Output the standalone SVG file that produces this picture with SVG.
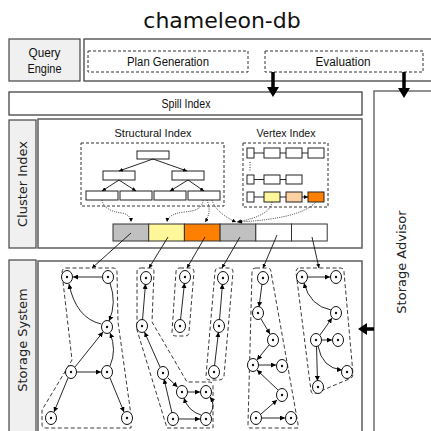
<svg xmlns="http://www.w3.org/2000/svg" width="431" height="431" viewBox="0 0 431 431">
<defs>
<marker id="ah" viewBox="0 0 10 10" refX="10" refY="5" markerWidth="5" markerHeight="5" markerUnits="userSpaceOnUse" orient="auto"><path d="M0,0 L10,5 L0,10 z" fill="#000"/></marker>
<marker id="ahs" viewBox="0 0 10 10" refX="10" refY="5" markerWidth="4" markerHeight="4" markerUnits="userSpaceOnUse" orient="auto"><path d="M0,0 L10,5 L0,10 z" fill="#000"/></marker>
</defs>
<style>
.lbl{font-family:"Liberation Sans",Arial,sans-serif;font-size:12px;fill:#111;text-anchor:middle}
.sm{font-size:11px}
.vl{font-family:"DejaVu Sans",sans-serif;font-size:13px;fill:#222;text-anchor:middle}
.box{fill:#fff;stroke:#333;stroke-width:1.2}
.gbox{fill:#f0f0f0;stroke:#444;stroke-width:1.2}
.mbox{fill:#fff;stroke:#666;stroke-width:1.6}
.dash{fill:none;stroke:#333;stroke-width:1;stroke-dasharray:3,2}
.hull{fill:none;stroke:#222;stroke-width:0.9;stroke-dasharray:4,2.5}
.tn{fill:#fff;stroke:#222;stroke-width:1}
.e{fill:none;stroke:#111;stroke-width:0.9;marker-end:url(#ah)}
.dot{fill:none;stroke:#333;stroke-width:1;stroke-dasharray:1,1.2;marker-end:url(#ahs)}
.cl{fill:none;stroke:#111;stroke-width:0.9;marker-end:url(#ahs)}
.nd ellipse{fill:#fff;stroke:#111;stroke-width:1}
.nd circle{fill:#111}
</style>
<rect width="431" height="431" fill="#fff"/>
<text x="222" y="28" font-family="DejaVu Sans,sans-serif" font-size="22" text-anchor="middle" fill="#111">chameleon-db</text>

<g id="query-engine">
<rect class="gbox" x="9" y="39" width="71" height="42"/>
<text class="lbl" x="44.5" y="57" textLength="32" lengthAdjust="spacingAndGlyphs">Query</text>
<text class="lbl" x="44.5" y="73" textLength="34" lengthAdjust="spacingAndGlyphs">Engine</text>
</g>
<g id="query-body">
<rect class="box" x="84" y="39" width="360" height="42"/>
</g>
<g id="plan-generation">
<rect class="dash" x="88" y="51" width="160" height="21"/>
<text class="lbl" x="168" y="66" textLength="82" lengthAdjust="spacingAndGlyphs">Plan Generation</text>
</g>
<g id="evaluation">
<rect class="dash" x="265" y="51" width="158" height="21"/>
<text class="lbl" x="343" y="66" textLength="55" lengthAdjust="spacingAndGlyphs">Evaluation</text>
</g>
<g id="spill-index">
<rect class="box" x="9" y="92" width="353" height="23"/>
<text class="lbl" x="186" y="108" textLength="49" lengthAdjust="spacingAndGlyphs">Spill Index</text>
</g>
<g id="storage-advisor">
<rect x="374" y="91" width="80" height="360" fill="#fff" stroke="#777" stroke-width="1.6"/>
<text class="vl" transform="translate(406,262) rotate(-90)">Storage Advisor</text>
</g>

<g id="cluster-index">
<rect class="gbox" x="9" y="120" width="27" height="128"/>
<text class="vl" transform="translate(27,184) rotate(-90)">Cluster Index</text>
<rect class="mbox" x="38" y="119" width="324" height="129"/>
</g>

<g id="structural-index">
<text class="lbl sm" x="153" y="137" textLength="77" lengthAdjust="spacingAndGlyphs">Structural Index</text>
<rect class="dash" x="81" y="143" width="143" height="63"/>
<rect class="tn" x="137" y="151" width="32" height="8"/>
<rect class="tn" x="103" y="171" width="32" height="9"/>
<rect class="tn" x="172" y="171" width="32" height="9"/>
<rect class="tn" x="86" y="191" width="32" height="9"/>
<rect class="tn" x="120" y="191" width="32" height="9"/>
<rect class="tn" x="154" y="191" width="32" height="9"/>
<rect class="tn" x="188" y="191" width="32" height="9"/>
<path class="cl" d="M153,159 L119,171"/>
<path class="cl" d="M153,159 L187,171"/>
<path class="cl" d="M119,180 L102,191"/>
<path class="cl" d="M119,180 L136,191"/>
<path class="cl" d="M188,180 L170,191"/>
<path class="cl" d="M188,180 L204,191"/>
</g>

<g id="vertex-index">
<text class="lbl sm" x="286" y="137" textLength="59" lengthAdjust="spacingAndGlyphs">Vertex Index</text>
<rect class="dash" x="243" y="143" width="85" height="64"/>
<rect class="tn" x="247" y="148" width="7" height="10"/>
<rect class="tn" x="264" y="148" width="16" height="10"/>
<rect class="tn" x="286" y="148" width="16" height="10"/>
<rect class="tn" x="308" y="148" width="16" height="10"/>
<rect class="tn" x="247" y="175" width="7" height="9"/>
<rect class="tn" x="264" y="175" width="16" height="9"/>
<rect class="tn" x="286" y="175" width="16" height="9"/>
<rect class="tn" x="247" y="192" width="7" height="10"/>
<rect class="tn" x="264" y="192" width="16" height="10" fill="#fff79a" style="fill:#fff79a"/>
<rect class="tn" x="286" y="192" width="16" height="10" style="fill:#fdd0a2"/>
<rect class="tn" x="308" y="192" width="16" height="10" style="fill:#ff8000"/>
<path class="cl" d="M254,153 L264,153 M280,153 L286,153 M302,153 L308,153 M254,179.5 L264,179.5 M280,179.5 L286,179.5 M254,197 L264,197 M280,197 L286,197 M302,197 L308,197"/>
<path d="M250,162 L250,172" stroke="#333" stroke-width="1" stroke-dasharray="1,1.5"/>
</g>

<g id="cluster-array">
<rect x="113" y="224" width="35.7" height="17" fill="#c0c0c0" stroke="#333"/>
<rect x="148.7" y="224" width="35.7" height="17" fill="#fff79a" stroke="#333"/>
<rect x="184.4" y="224" width="35.7" height="17" fill="#ff8000" stroke="#333"/>
<rect x="220.1" y="224" width="35.7" height="17" fill="#c0c0c0" stroke="#333"/>
<rect x="255.8" y="224" width="35.7" height="17" fill="#fff" stroke="#333"/>
<rect x="291.5" y="224" width="35.7" height="17" fill="#fff" stroke="#333"/>
</g>

<g id="storage-system">
<rect class="gbox" x="9" y="260" width="27" height="190"/>
<text class="vl" transform="translate(27,340) rotate(-90)">Storage System</text>
<rect class="mbox" x="38" y="261" width="324" height="190"/>
</g>

<g id="connectors">
<path d="M273,72 L273,88" stroke="#000" stroke-width="3.5"/>
<path d="M267,87 L279,87 L273,97 z" fill="#000"/>
<path d="M404,72 L404,89" stroke="#000" stroke-width="3.5"/>
<path d="M398,88 L410,88 L404,98 z" fill="#000"/>
<path d="M374,329 L366,329" stroke="#000" stroke-width="3.5"/>
<path d="M367,323 L367,335 L358,329 z" fill="#000"/>

<path class="dot" d="M102,200 Q104,211 122,213 Q131,215 131,222"/>
<path class="dot" d="M203,200 Q203,211 184,212 Q168,214 167,222"/>
<path class="dot" d="M207,200 Q212,212 205,222"/>
<path class="dot" d="M212,200 Q216,213 236,222"/>
<path class="dot" d="M272,202 Q270,216 237,222"/>
<path class="dot" d="M316,202 Q300,219 238,222"/>

<path class="cl" d="M131,233 L92,268"/>
<path class="cl" d="M168,237 L149,268"/>
<path class="cl" d="M205,237 L187,268"/>
<path class="cl" d="M240,237 L222,268"/>
<path class="cl" d="M277,235 L263,268"/>
<path class="cl" d="M312,237 L319,268"/>

<path class="e" d="M102,277 L73,277"/>
<path class="e" d="M101,324 Q76,318 69,284"/>
<path class="e" d="M110,283 Q117,303 109,321"/>
<path class="e" d="M110,366 Q117,350 110,333"/>
<path class="e" d="M75,367 L103,332"/>
<path class="e" d="M77,372 L101,372"/>
<path class="e" d="M68,378 L54,412"/>
<path class="e" d="M110,378 L124,412"/>

<path class="e" d="M142.5,320 L145.5,284"/>
<path class="e" d="M160,367 L144.5,332"/>
<path class="e" d="M168,378 L177.5,387"/>
<path class="e" d="M188,392 L200,392"/>
<path class="e" d="M172,413 L164,379"/>
<path class="e" d="M179,419 L200,419"/>
<path class="e" d="M210,414 Q216,405 210,397"/>
<path class="e" d="M201,415 Q188,411 184,398"/>

<path class="e" d="M180.5,320 L184.5,283"/>
<path class="e" d="M219.5,320 L222.5,284"/>
<path class="e" d="M214.5,366 L218.5,332"/>

<path class="e" d="M262,284 L259,307"/>
<path class="e" d="M261,319 L270,334"/>
<path class="e" d="M269,345 L257,360"/>
<path class="e" d="M259,365 L276,365"/>
<path class="e" d="M278,390 L257,370"/>
<path class="e" d="M261,414 L277,400"/>
<path class="e" d="M262,418 L285,418"/>

<path class="e" d="M308,277 L330,277"/>
<path class="e" d="M331,310 Q310,306 304,283"/>
<path class="e" d="M320,335 L332,318"/>
<path class="e" d="M322,340 L332,340"/>
<path class="e" d="M318,346 Q322,368 342,370"/>
<path class="e" d="M316.5,346 L317.5,381"/>
</g>

<g id="cluster-1">
<path class="hull" d="M66,268 L113,268 Q117,268 117,272 L118,322 L131,415 L131,428 L46,428 Q42,428 42,424 L42,410 L72,360 L62,273 Q62,268 66,268 Z"/>
<g class="nd">
<ellipse cx="67" cy="277" rx="5.5" ry="6.5"/><circle cx="67" cy="277" r="1.2"/>
<ellipse cx="108" cy="277" rx="5.5" ry="6.5"/><circle cx="108" cy="277" r="1.2"/>
<ellipse cx="107" cy="327" rx="5.5" ry="6.5"/><circle cx="107" cy="327" r="1.2"/>
<ellipse cx="71" cy="372" rx="5.5" ry="6.5"/><circle cx="71" cy="372" r="1.2"/>
<ellipse cx="107" cy="372" rx="5.5" ry="6.5"/><circle cx="107" cy="372" r="1.2"/>
<ellipse cx="51" cy="418" rx="5.5" ry="6.5"/><circle cx="51" cy="418" r="1.2"/>
<ellipse cx="127" cy="418" rx="5.5" ry="6.5"/><circle cx="127" cy="418" r="1.2"/>
</g>
</g>

<g id="cluster-2">
<path class="hull" d="M141,268 L150,268 Q154,268 154,272 L152,322 L187,382 L209,382 Q213,382 213,386 L213,428 L167,428 L137,330 L137,272 Q137,268 141,268 Z"/>
<g class="nd">
<ellipse cx="146" cy="278" rx="5.5" ry="6.5"/><circle cx="146" cy="278" r="1.2"/>
<ellipse cx="142" cy="326" rx="5.5" ry="6.5"/><circle cx="142" cy="326" r="1.2"/>
<ellipse cx="163" cy="373" rx="5.5" ry="6.5"/><circle cx="163" cy="373" r="1.2"/>
<ellipse cx="182" cy="392" rx="5.5" ry="6.5"/><circle cx="182" cy="392" r="1.2"/>
<ellipse cx="206" cy="392" rx="5.5" ry="6.5"/><circle cx="206" cy="392" r="1.2"/>
<ellipse cx="173" cy="419" rx="5.5" ry="6.5"/><circle cx="173" cy="419" r="1.2"/>
<ellipse cx="206" cy="419" rx="5.5" ry="6.5"/><circle cx="206" cy="419" r="1.2"/>
</g>
</g>

<g id="cluster-3">
<path class="hull" d="M180,268 L190,268 Q194,268 194,272 L189,332 Q189,336 185,336 L176,336 Q172,336 172,332 L176,272 Q176,268 180,268 Z"/>
<g class="nd">
<ellipse cx="185" cy="277" rx="5.5" ry="6.5"/><circle cx="185" cy="277" r="1.2"/>
<ellipse cx="180" cy="326" rx="5.5" ry="6.5"/><circle cx="180" cy="326" r="1.2"/>
</g>
</g>

<g id="cluster-4">
<path class="hull" d="M219,268 L229,268 Q233,268 233,272 L224,376 Q223,380 219,380 L210,380 Q206,380 206,376 L215,272 Q215,268 219,268 Z"/>
<g class="nd">
<ellipse cx="223" cy="278" rx="5.5" ry="6.5"/><circle cx="223" cy="278" r="1.2"/>
<ellipse cx="219" cy="326" rx="5.5" ry="6.5"/><circle cx="219" cy="326" r="1.2"/>
<ellipse cx="214" cy="372" rx="5.5" ry="6.5"/><circle cx="214" cy="372" r="1.2"/>
</g>
</g>

<g id="cluster-5">
<path class="hull" d="M256,268 L267,268 Q271,268 271,272 L298,424 L298,428 L250,428 Q248,428 248,424 L252,272 Q252,268 256,268 Z"/>
<g class="nd">
<ellipse cx="263" cy="278" rx="5.5" ry="6.5"/><circle cx="263" cy="278" r="1.2"/>
<ellipse cx="258" cy="313" rx="5.5" ry="6.5"/><circle cx="258" cy="313" r="1.2"/>
<ellipse cx="273" cy="340" rx="5.5" ry="6.5"/><circle cx="273" cy="340" r="1.2"/>
<ellipse cx="253" cy="365" rx="5.5" ry="6.5"/><circle cx="253" cy="365" r="1.2"/>
<ellipse cx="282" cy="366" rx="5.5" ry="6.5"/><circle cx="282" cy="366" r="1.2"/>
<ellipse cx="282" cy="395" rx="5.5" ry="6.5"/><circle cx="282" cy="395" r="1.2"/>
<ellipse cx="256" cy="418" rx="5.5" ry="6.5"/><circle cx="256" cy="418" r="1.2"/>
<ellipse cx="291" cy="418" rx="5.5" ry="6.5"/><circle cx="291" cy="418" r="1.2"/>
</g>
</g>

<g id="cluster-6">
<path class="hull" d="M300,268 L340,268 Q344,268 344,272 L353,374 Q353,378 349,379 L316,393 Q312,395 311,391 L296,272 Q296,268 300,268 Z"/>
<g class="nd">
<ellipse cx="302" cy="277" rx="5.5" ry="6.5"/><circle cx="302" cy="277" r="1.2"/>
<ellipse cx="336" cy="277" rx="5.5" ry="6.5"/><circle cx="336" cy="277" r="1.2"/>
<ellipse cx="336" cy="313" rx="5.5" ry="6.5"/><circle cx="336" cy="313" r="1.2"/>
<ellipse cx="316" cy="340" rx="5.5" ry="6.5"/><circle cx="316" cy="340" r="1.2"/>
<ellipse cx="338" cy="340" rx="5.5" ry="6.5"/><circle cx="338" cy="340" r="1.2"/>
<ellipse cx="347" cy="372" rx="5.5" ry="6.5"/><circle cx="347" cy="372" r="1.2"/>
<ellipse cx="318" cy="387" rx="5.5" ry="6.5"/><circle cx="318" cy="387" r="1.2"/>
</g>
</g>
</svg>
